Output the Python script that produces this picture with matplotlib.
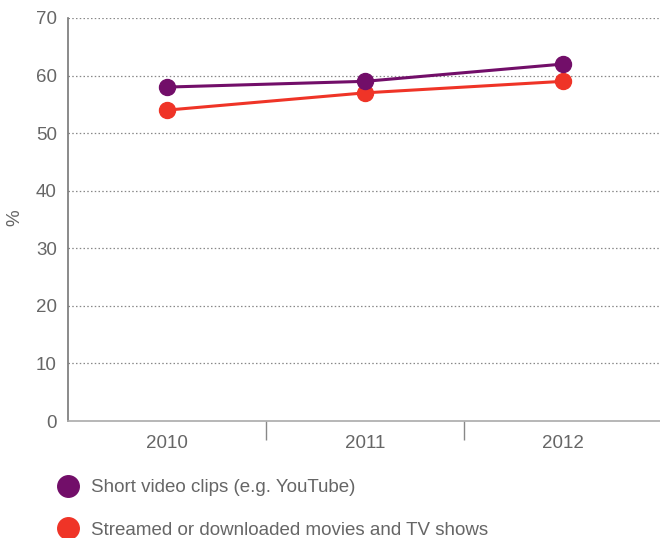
import matplotlib
matplotlib.use("Agg")
import matplotlib.pyplot as plt
from matplotlib.lines import Line2D

plt.rcParams['font.family'] = ['Liberation Sans', 'DejaVu Sans']

years = ["2010", "2011", "2012"]
short_clips = [58, 59, 62]
streamed = [54, 57, 59]
series_labels = ["Short video clips (e.g. YouTube)",
                 "Streamed or downloaded movies and TV shows"]
y_ticks = [0, 10, 20, 30, 40, 50, 60, 70]

PURPLE = "#720e69"
RED = "#ef3427"
TEXT = "#666666"
FS = 13.5

fig = plt.figure(figsize=(6.6, 5.38), dpi=100)
ax = fig.add_axes([68/660, 1 - 421/538, 594/660, (421 - 18)/538])

x = list(range(len(years)))
ax.plot(x, short_clips, color=PURPLE, lw=2.2, marker='o', ms=11.5, zorder=4)
ax.plot(x, streamed, color=RED, lw=2.2, marker='o', ms=11.5, zorder=3)

ax.set_xlim(-0.5, len(years) - 0.5)
ax.set_ylim(0, 70)
ax.set_yticks(y_ticks)
ax.set_yticklabels([str(v) for v in y_ticks])
ax.set_xticks(x)
ax.set_xticklabels(years)
ax.set_xticks([i + 0.5 for i in x[:-1]], minor=True)

ax.tick_params(axis='x', which='major', length=0, pad=10, labelsize=FS, labelcolor=TEXT)
ax.tick_params(axis='x', which='minor', length=14, width=1, color='#888888', direction='out')
ax.tick_params(axis='y', length=0, pad=8, labelsize=FS, labelcolor=TEXT)

for v in y_ticks[1:]:
    ax.axhline(v, color='#888888', lw=0.9, ls=(0, (1.2, 1.8)), zorder=1)

for side in ['top', 'right']:
    ax.spines[side].set_visible(False)
ax.spines['left'].set_color('#777777')
ax.spines['left'].set_linewidth(1.2)
ax.spines['bottom'].set_color('#aaaaaa')
ax.spines['bottom'].set_linewidth(1.2)

fig.text(15/660, 1 - 218/538, "%", rotation=90, ha='center', va='center',
         fontsize=FS, color=TEXT)

handles = [Line2D([], [], ls='none', marker='o', ms=15.5, color=c) for c in (PURPLE, RED)]
fig.legend(handles, series_labels, loc='upper left',
           bbox_to_anchor=(58.6/660, 1 - 479/538), frameon=False,
           fontsize=FS, labelcolor=TEXT, handlelength=1.0,
           handletextpad=0.73, labelspacing=1.36, borderpad=0, borderaxespad=0)

fig.savefig("out.png", dpi=100)
